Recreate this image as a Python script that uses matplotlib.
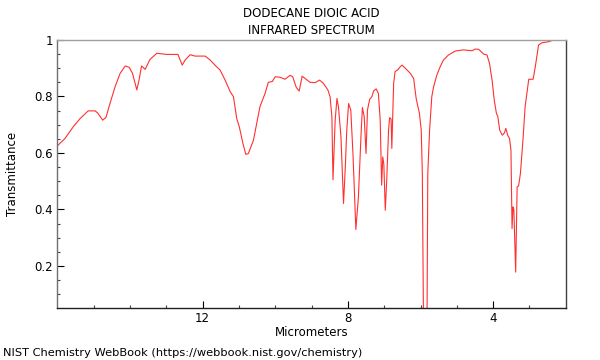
import matplotlib
matplotlib.use("Agg")
import matplotlib.pyplot as plt
from matplotlib.ticker import MultipleLocator, FixedLocator, FuncFormatter

# Spectrum (wavelength in micrometers, transmittance)
wavelength = [16.00, 15.79, 15.56, 15.37, 15.15, 14.96, 14.89, 14.75, 14.66, 14.55,
              14.41, 14.27, 14.13, 14.02, 13.93, 13.81, 13.75, 13.68, 13.58, 13.45,
              13.26, 13.12, 12.99, 12.68, 12.56, 12.48, 12.34, 12.21, 11.93, 11.79,
              11.66, 11.52, 11.38, 11.24, 11.15, 11.06, 10.99, 10.89, 10.81, 10.74,
              10.60, 10.42, 10.28, 10.19, 10.08, 10.00, 9.87, 9.73, 9.59, 9.52,
              9.42, 9.34, 9.26, 9.18, 9.04, 8.90, 8.78, 8.67, 8.55, 8.49,
              8.44, 8.41, 8.35, 8.30, 8.26, 8.19, 8.12, 8.07, 8.03, 7.98,
              7.92, 7.86, 7.78, 7.71, 7.64, 7.60, 7.55, 7.50, 7.46, 7.40,
              7.34, 7.29, 7.22, 7.16, 7.11, 7.07, 7.04, 7.01, 6.97, 6.93,
              6.88, 6.85, 6.81, 6.79, 6.74, 6.70, 6.63, 6.56, 6.51, 6.42,
              6.28, 6.19, 6.12, 6.03, 5.98, 5.95, 5.92, 5.87, 5.82, 5.80,
              5.75, 5.69, 5.64, 5.55, 5.46, 5.37, 5.23, 5.04, 4.82, 4.58,
              4.49, 4.40, 4.26, 4.17, 4.10, 4.03, 3.97, 3.91, 3.87, 3.82,
              3.75, 3.69, 3.65, 3.60, 3.55, 3.51, 3.48, 3.455, 3.43, 3.38,
              3.34, 3.30, 3.25, 3.18, 3.12, 3.02, 2.90, 2.84, 2.75, 2.66,
              2.47, 2.34, 2.00]
transmittance = [0.625, 0.651, 0.693, 0.722, 0.749, 0.749, 0.742, 0.716, 0.726, 0.775,
                 0.834, 0.882, 0.908, 0.903, 0.882, 0.823, 0.858, 0.908, 0.896, 0.931,
                 0.953, 0.951, 0.949, 0.949, 0.911, 0.929, 0.948, 0.943, 0.943, 0.929,
                 0.911, 0.894, 0.858, 0.817, 0.799, 0.722, 0.693, 0.634, 0.595, 0.598,
                 0.645, 0.764, 0.811, 0.850, 0.853, 0.870, 0.868, 0.861, 0.875, 0.870,
                 0.832, 0.819, 0.872, 0.864, 0.850, 0.849, 0.858, 0.846, 0.823, 0.799,
                 0.728, 0.505, 0.716, 0.793, 0.764, 0.657, 0.421, 0.551, 0.681, 0.775,
                 0.752, 0.598, 0.329, 0.444, 0.657, 0.761, 0.728, 0.598, 0.752, 0.790,
                 0.799, 0.820, 0.827, 0.811, 0.716, 0.486, 0.586, 0.560, 0.397, 0.504,
                 0.681, 0.725, 0.720, 0.616, 0.846, 0.888, 0.894, 0.905, 0.911, 0.900,
                 0.882, 0.864, 0.793, 0.740, 0.681, 0.528, 0.030, 0.030, 0.030, 0.527,
                 0.681, 0.799, 0.834, 0.876, 0.905, 0.929, 0.947, 0.961, 0.965, 0.962,
                 0.968, 0.967, 0.950, 0.947, 0.917, 0.858, 0.787, 0.740, 0.728, 0.681,
                 0.663, 0.671, 0.687, 0.663, 0.651, 0.610, 0.332, 0.409, 0.400, 0.178,
                 0.480, 0.483, 0.527, 0.645, 0.764, 0.861, 0.861, 0.905, 0.982, 0.990,
                 0.994, 1.000, 1.000]

x_major = [12, 8, 4]
x_minor = [15, 14, 13, 11, 10, 9, 7, 6, 5, 3]

plt.rcParams['font.family'] = 'DejaVu Sans'
plt.rcParams['font.size'] = 8.5

fig = plt.figure(figsize=(6, 3.6), dpi=100)
ax = fig.add_axes([0.0955, 0.1453, 0.8475, 0.7436])

ax.plot(wavelength, transmittance, color='#ff3030', linewidth=0.8)

ax.set_xlim(16, 2)
ax.set_ylim(0.052, 1.0)

ax.xaxis.set_major_locator(FixedLocator(x_major))
ax.xaxis.set_minor_locator(FixedLocator(x_minor))
ax.yaxis.set_major_locator(MultipleLocator(0.2))
ax.yaxis.set_minor_locator(MultipleLocator(0.05))
ax.yaxis.set_major_formatter(FuncFormatter(lambda v, p: f"{v:g}"))
ax.xaxis.set_major_formatter(FuncFormatter(lambda v, p: f"{v:g}"))

ax.tick_params(which='major', direction='in', length=5, width=0.8, color='black',
               labelsize=8.5, pad=3)
ax.tick_params(which='minor', direction='in', length=2.5, width=0.8, color='#444444')
ax.tick_params(top=False, right=False, which='both')

ax.spines['top'].set_color('#a0a0a0')
ax.spines['right'].set_color('#404040')
ax.spines['left'].set_color('#707070')
ax.spines['bottom'].set_color('#202020')
for s in ax.spines.values():
    s.set_linewidth(1.0)

ax.set_ylabel("Transmittance", fontsize=8.5, labelpad=11.5)
ax.set_xlabel("Micrometers", fontsize=8.5, labelpad=1)

fig.text(0.519, 0.963, "DODECANE DIOIC ACID", ha='center', va='center', fontsize=8.5)
fig.text(0.519, 0.916, "INFRARED SPECTRUM", ha='center', va='center', fontsize=8.5)
fig.text(0.005, 0.019, "NIST Chemistry WebBook (https://webbook.nist.gov/chemistry)",
         ha='left', va='center', fontsize=8.2)

fig.savefig("out.png", dpi=100)
